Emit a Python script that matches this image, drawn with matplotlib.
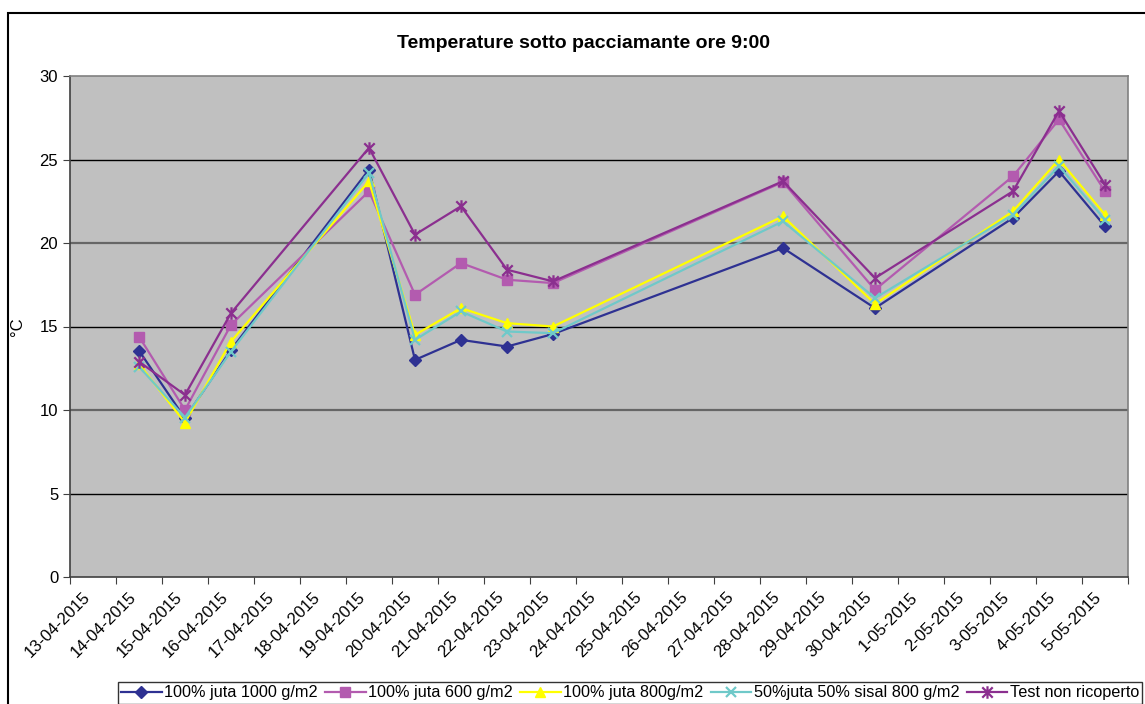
import numpy as np
import matplotlib.pyplot as plt
from matplotlib.path import Path
from matplotlib.patches import Rectangle

plt.rcParams['font.family'] = ['Liberation Sans', 'DejaVu Sans']

# categories on the x axis (one per day)
dates = ['13-04-2015', '14-04-2015', '15-04-2015', '16-04-2015', '17-04-2015',
         '18-04-2015', '19-04-2015', '20-04-2015', '21-04-2015', '22-04-2015',
         '23-04-2015', '24-04-2015', '25-04-2015', '26-04-2015', '27-04-2015',
         '28-04-2015', '29-04-2015', '30-04-2015', '1-05-2015', '2-05-2015',
         '3-05-2015', '4-05-2015', '5-05-2015']

# days that have measurements
meas_dates = ['14-04-2015', '15-04-2015', '16-04-2015', '19-04-2015', '20-04-2015',
              '21-04-2015', '22-04-2015', '23-04-2015', '28-04-2015', '30-04-2015',
              '3-05-2015', '4-05-2015', '5-05-2015']

juta_1000 = [13.55, 9.5, 13.6, 24.4, 13.0, 14.2, 13.8, 14.55, 19.7, 16.1, 21.5, 24.3, 21.0]
juta_600 = [14.4, 10.0, 15.1, 23.1, 16.9, 18.8, 17.8, 17.6, 23.65, 17.2, 24.0, 27.4, 23.1]
juta_800 = [12.75, 9.25, 14.1, 23.7, 14.5, 16.1, 15.2, 15.0, 21.6, 16.35, 21.9, 25.0, 21.7]
juta_sisal = [12.6, 9.55, 13.5, 24.2, 14.2, 15.9, 14.7, 14.6, 21.3, 16.7, 21.7, 24.6, 21.4]
test = [12.9, 10.9, 15.8, 25.7, 20.5, 22.2, 18.4, 17.7, 23.7, 17.9, 23.1, 27.9, 23.5]

series = [
    ('100% juta 1000 g/m2', juta_1000, '#2E3192', 'D', 6),
    ('100% juta 600 g/m2', juta_600, '#B35BAF', 's', 7),
    ('100% juta 800g/m2', juta_800, '#FFFF00', '^', 7),
    ('50%juta 50% sisal 800 g/m2', juta_sisal, '#6FC9C9', 'x', 7),
    ('Test non ricoperto', test, '#8B2F8F', 'star', 9),
]

# Excel style star: X with vertical bar
star = Path([(-1, -1), (1, 1), (-1, 1), (1, -1), (0, -1.2), (0, 1.2)],
            [Path.MOVETO, Path.LINETO] * 3)

fig = plt.figure(figsize=(11.45, 7.04), dpi=100)
ax = fig.add_axes([70 / 1145, 1 - 577 / 704, (1128 - 70) / 1145, (577 - 76) / 704])
ax.set_facecolor('#C0C0C0')

xpos = [dates.index(d) for d in meas_dates]
for name, vals, col, mk, ms in series:
    m = star if mk == 'star' else mk
    ax.plot(xpos, vals, color=col, lw=1.6, marker=m, ms=ms, mew=1.6 if mk in ('x', 'star') else 1,
            mec=col, mfc=col, label=name, clip_on=False)

ax.set_xlim(-0.5, len(dates) - 0.5)
ax.set_ylim(0, 30)
ax.set_yticks(range(0, 31, 5))
for y in range(5, 30, 5):
    if y % 10 == 0:
        ax.axhline(y, color='#666666', lw=1.6, zorder=0.5)
    else:
        ax.axhline(y, color='black', lw=1.0, zorder=0.5)

# tick marks at category boundaries, labels (invisible minor ticks) a bit left of centre
ax.set_xticks(np.arange(-0.5, len(dates), 1.0))
ax.set_xticklabels([])
ax.set_xticks(np.arange(len(dates)) - 0.24, minor=True)
ax.set_xticklabels(dates, minor=True, rotation=45, ha='right', va='top',
                   rotation_mode='anchor', fontsize=12)
ax.tick_params(axis='x', which='minor', length=0, pad=9)
ax.tick_params(axis='x', which='major', length=5, color='#404040')
ax.tick_params(axis='y', length=5, color='#404040', labelsize=12)

for s in ['top', 'right']:
    ax.spines[s].set_color('#808080')
    ax.spines[s].set_linewidth(1.2)
for s in ['left', 'bottom']:
    ax.spines[s].set_color('#404040')
    ax.spines[s].set_linewidth(1.2)

ax.set_ylabel('°C', fontsize=12)
ax.yaxis.set_label_coords(-45 / 1058, 0.5)

fig.text(583 / 1145, 1 - 44 / 704, 'Temperature sotto pacciamante ore 9:00',
         ha='center', va='center', fontsize=14, fontweight='bold')

fig.legend(loc='center', bbox_to_anchor=(630 / 1145, 1 - 693 / 704), ncol=5,
           fontsize=11.7, frameon=True, fancybox=False, edgecolor='black',
           handlelength=2.5, handletextpad=0.15, columnspacing=0.45,
           borderpad=0.2, borderaxespad=0)

# chart area border
fig.patches.append(Rectangle((8 / 1145, -0.05), 1.2, 1 - 13 / 704 + 0.05,
                             transform=fig.transFigure, fill=False,
                             edgecolor='black', lw=1.5, zorder=-1))

fig.savefig('out.png', dpi=100)
